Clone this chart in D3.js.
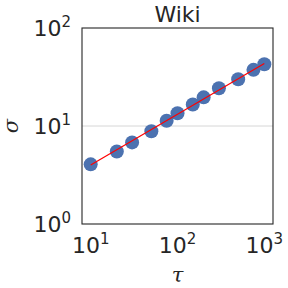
<!DOCTYPE html>
<html>
<head>
<meta charset="utf-8">
<script src="https://cdn.jsdelivr.net/npm/d3@7"></script>
<style>
  body { margin: 0; background: #fff; }
  text { font-family: "DejaVu Sans", sans-serif; fill: #262626; }
</style>
</head>
<body>
<svg id="svg" width="288" height="288"></svg>
<script>
const WIDTH = 288
const HEIGHT = 288
const LEFT = 82
const RIGHT = 273
const TOP = 28
const BOTTOM = 224

// data
const tau = [10, 20, 30, 50, 75, 100, 150, 200, 300, 500, 750, 1000]
const sigma = [4.06, 5.5, 6.8, 8.85, 11.3, 13.5, 16.6, 19.6, 24.3, 30.0, 37.4, 42.7]
const fitTau = [10, 1000]
const fitSigma = [4.0, 43.5]
const xTicks = [10, 100, 1000]
const yTicks = [1, 10, 100]
const xTickExp = ['1', '2', '3']
const yTickExp = ['0', '1', '2']

const SVG = d3.select('#svg')

const x = d3.scaleLog()
  .domain([Math.pow(10, 0.9), Math.pow(10, 3.1)])
  .range([LEFT, RIGHT])

const y = d3.scaleLog()
  .domain([1, 100])
  .range([BOTTOM, TOP])

// grid line at 10^1
SVG.append('g')
  .selectAll('line')
  .data(yTicks.slice(1, 2))
  .enter()
  .append('line')
  .attr('x1', LEFT)
  .attr('x2', RIGHT)
  .attr('y1', d => y(d))
  .attr('y2', d => y(d))
  .attr('stroke', '#cccccc')
  .attr('stroke-width', 0.8)

// dots
SVG.append('g')
  .selectAll('circle')
  .data(tau)
  .enter()
  .append('circle')
  .attr('cx', d => x(d))
  .attr('cy', (d, i) => y(sigma[i]))
  .attr('r', 7)
  .attr('fill', '#4c72b0')

// fitted line
const line = d3.line()
  .x(d => x(d[0]))
  .y(d => y(d[1]))

SVG.append('path')
  .attr('d', line(fitTau.map((t, i) => [t, fitSigma[i]])))
  .attr('stroke', '#ff0000')
  .attr('stroke-width', 1.2)
  .attr('fill', 'none')

// frame
SVG.append('rect')
  .attr('x', LEFT)
  .attr('y', TOP)
  .attr('width', RIGHT - LEFT)
  .attr('height', BOTTOM - TOP)
  .attr('fill', 'none')
  .attr('stroke', '#262626')
  .attr('stroke-width', 1.1)

// x tick labels
const xLabels = SVG.append('g')
  .selectAll('text')
  .data(xTicks)
  .enter()
  .append('text')
  .attr('x', d => x(d))
  .attr('y', 253)
  .attr('text-anchor', 'middle')
  .style('font-size', '22px')

xLabels.append('tspan').text('10')
xLabels.append('tspan')
  .text((d, i) => xTickExp[i])
  .attr('dy', -9)
  .style('font-size', '15px')

// y tick labels
const yLabels = SVG.append('g')
  .selectAll('text')
  .data(yTicks)
  .enter()
  .append('text')
  .attr('x', 71)
  .attr('y', d => y(d) + 8)
  .attr('text-anchor', 'end')
  .style('font-size', '22px')

yLabels.append('tspan').text('10')
yLabels.append('tspan')
  .text((d, i) => yTickExp[i])
  .attr('dy', -9)
  .style('font-size', '15px')

// title
SVG.append('text')
  .attr('x', (LEFT + RIGHT) / 2)
  .attr('y', 22)
  .attr('text-anchor', 'middle')
  .style('font-size', '22px')
  .text('Wiki')

// axis labels
SVG.append('text')
  .attr('x', (LEFT + RIGHT) / 2)
  .attr('y', 282)
  .attr('text-anchor', 'middle')
  .style('font-family', '"DejaVu Serif", serif')
  .style('font-style', 'italic')
  .style('font-size', '21px')
  .text('τ')

SVG.append('text')
  .attr('transform', `translate(18, ${(TOP + BOTTOM) / 2}) rotate(-90)`)
  .attr('text-anchor', 'middle')
  .style('font-family', '"DejaVu Serif", serif')
  .style('font-style', 'italic')
  .style('font-size', '21px')
  .text('σ')
</script>
</body>
</html>
